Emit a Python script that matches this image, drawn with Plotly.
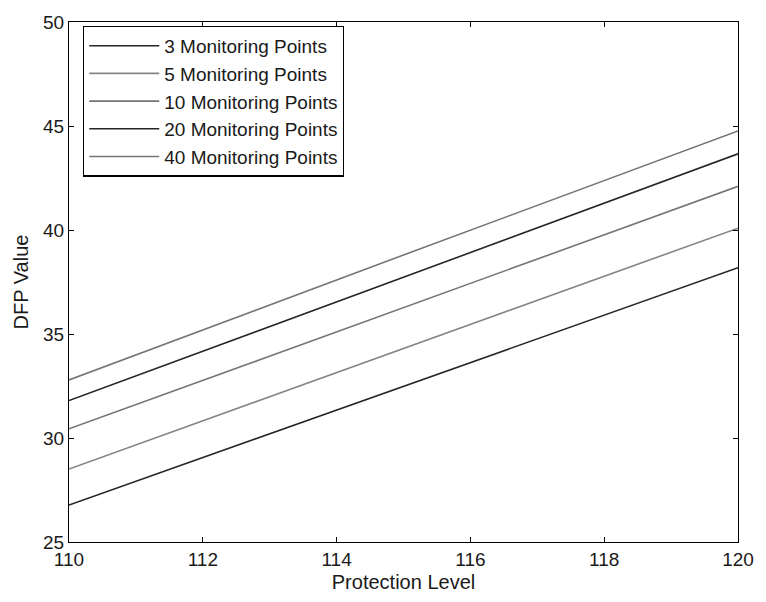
import plotly.graph_objects as go

protection_level = [110, 115, 120]
series_names = ["3 Monitoring Points", "5 Monitoring Points", "10 Monitoring Points",
                "20 Monitoring Points", "40 Monitoring Points"]
dfp_3 = [26.78, 32.48, 38.19]
dfp_5 = [28.51, 34.30, 40.09]
dfp_10 = [30.44, 36.27, 42.10]
dfp_20 = [31.80, 37.73, 43.66]
dfp_40 = [32.79, 38.80, 44.76]
x_ticks = [110, 112, 114, 116, 118, 120]
y_ticks = [25, 30, 35, 40, 45, 50]

series_values = [dfp_3, dfp_5, dfp_10, dfp_20, dfp_40]
colors = ["#262626", "#858585", "#757575", "#262626", "#757575"]

fig = go.Figure()
for name, vals, col in zip(series_names, series_values, colors):
    fig.add_trace(go.Scatter(x=protection_level, y=vals, mode="lines", name=name,
                             line=dict(color=col, width=1.6)))

font = "Liberation Sans, Arial, sans-serif"
axis_common = dict(showline=True, linecolor="black", linewidth=1.2, mirror="ticks",
                   ticks="inside", ticklen=5, tickcolor="black", showgrid=False,
                   zeroline=False, tickfont=dict(size=19, color="#1a1a1a", family=font))
fig.update_xaxes(range=[110, 120], tickvals=x_ticks,
                 title=dict(text="Protection Level", font=dict(size=20, color="#1a1a1a", family=font), standoff=6),
                 **axis_common)
fig.update_yaxes(range=[25, 50], tickvals=y_ticks,
                 title=dict(text="DFP Value", font=dict(size=20, color="#1a1a1a", family=font), standoff=8),
                 **axis_common)

fig.update_layout(
    width=766, height=602,
    margin=dict(l=69, r=22, t=14, b=57),
    plot_bgcolor="white", paper_bgcolor="white",
    font=dict(family=font, size=19, color="#1a1a1a"),
    legend=dict(x=0.021, y=0.993, xanchor="left", yanchor="top",
                bordercolor="black", borderwidth=1.2, bgcolor="white",
                font=dict(size=19, family=font, color="#1a1a1a"),
                itemwidth=70, tracegroupgap=0),
    showlegend=True,
)
fig.write_html("out.html")
